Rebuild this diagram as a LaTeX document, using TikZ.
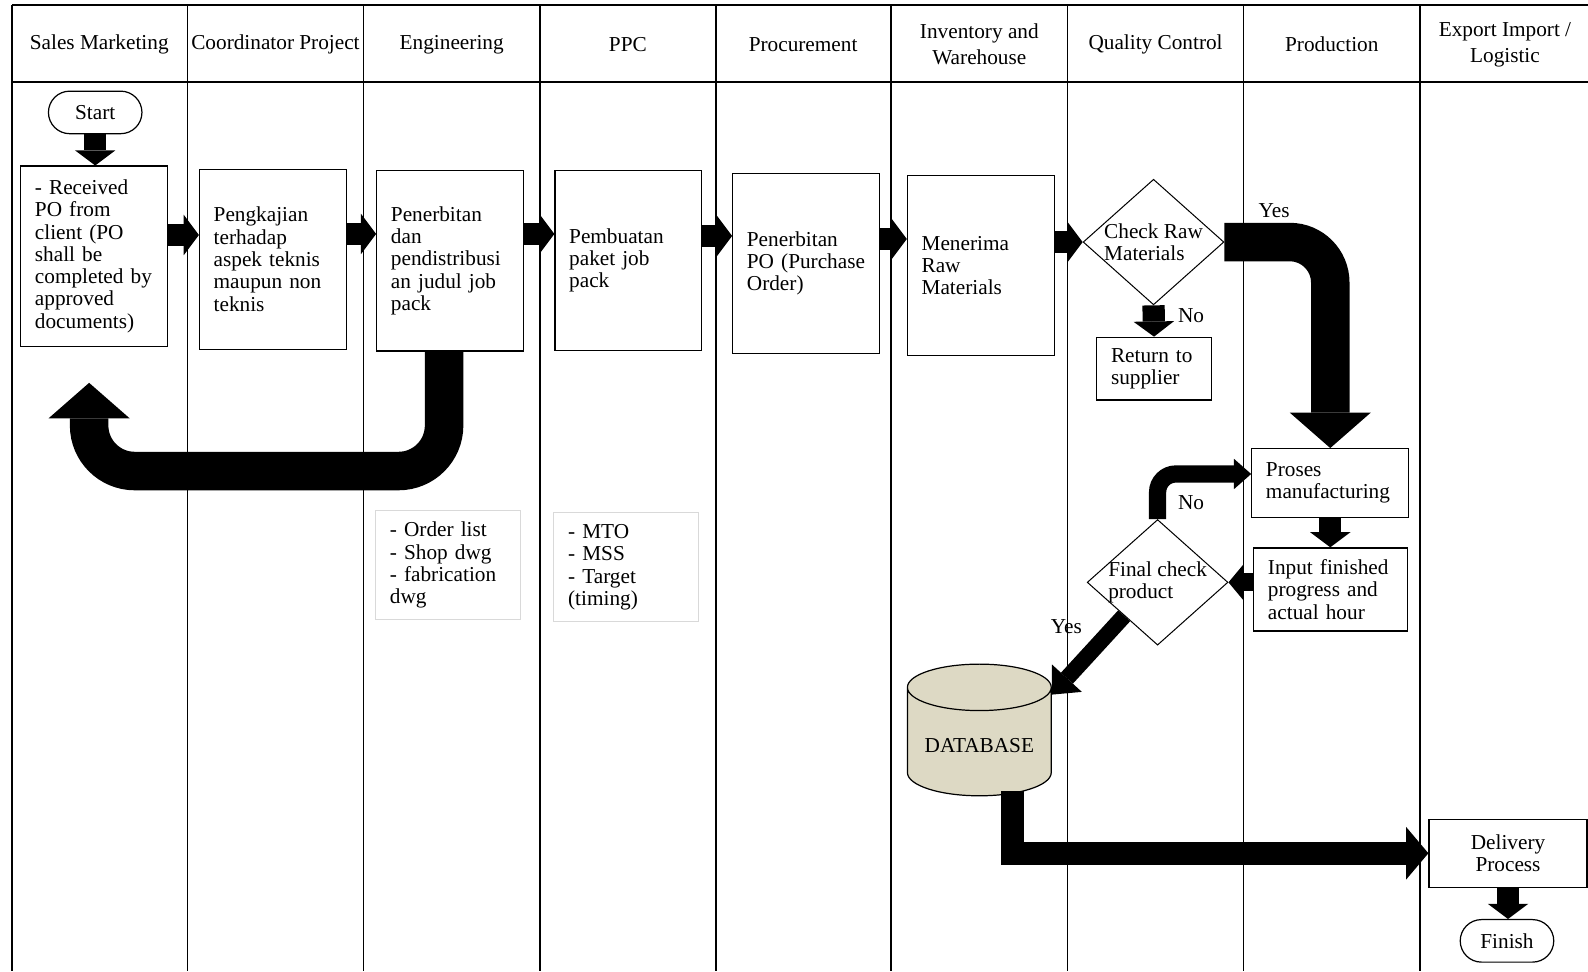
\documentclass[tikz,border=0pt]{standalone}
\usepackage{fontspec}
\setmainfont{Liberation Serif}
\usetikzlibrary{positioning,arrows.meta,shapes.geometric,shapes.misc}

\newcommand{\boxfont}{\fontsize{21}{22}\selectfont}
\newcommand{\headfont}{\fontsize{21}{26}\selectfont}
\definecolor{dbtan}{RGB}{221,217,196}
\definecolor{notegray}{RGB}{217,217,217}

\begin{document}
\begin{tikzpicture}[x=1pt, y=-1pt,
	lane/.style={line width=1.6pt},
	head/.style={font=\headfont, align=center},
	procbox/.style={rectangle, draw, line width=1.2pt, fill=white, minimum width=145pt, minimum height=178pt, text width=117pt, inner xsep=14pt, align=left, font=\boxfont},
	smallbox/.style={rectangle, draw, line width=1.2pt, fill=white, inner xsep=14pt, align=left, font=\boxfont},
	notebox/.style={rectangle, draw=notegray, line width=1pt, minimum width=143pt, minimum height=107pt, text width=115pt, inner xsep=14pt, align=left, font=\boxfont},
	term/.style={rounded rectangle, draw, line width=1.2pt, fill=white, minimum width=99pt, minimum height=42pt, font=\boxfont},
	decision/.style={diamond, draw, line width=1pt, fill=white, minimum width=139pt, minimum height=124pt, inner sep=-2pt, aspect=1.12, align=left, font=\boxfont},
	database/.style={cylinder, shape border rotate=90, draw, line width=1.2pt, fill=dbtan, aspect=0.4, minimum width=142pt, minimum height=130pt, font=\boxfont},
	lbl/.style={font=\boxfont},
	blockarrow/.style n args={3}{line width=#1, -{Triangle[width=#2, length=#3, line width=0pt]}},
	flow/.style={blockarrow={22pt}{40pt}{15pt}},
	thinflow/.style={blockarrow={17pt}{30pt}{17pt}},
	midflow/.style={blockarrow={23pt}{52pt}{22pt}},
	bigflow/.style={blockarrow={38pt}{80pt}{35pt}},
	]
	\useasboundingbox (0,0) rectangle (1568,959);

	%Lanes
	\foreach \lx in {12,185,359,533,707,880,1054,1228,1402}
		\draw[lane] (\lx,5) -- (\lx,959);
	\draw[lane] (12,5) -- (1568,5);
	\draw[line width=2.4pt] (12,81) -- (1568,81);

	%Headers
	\node[head] (hsales)   at (98,44)   {Sales Marketing};
	\node[head] (hcoord)   at (272,44)  {Coordinator Project};
	\node[head] (heng)     at (446,44)  {Engineering};
	\node[head] (hppc)     at (620,44)  {PPC};
	\node[head] (hproc)    at (793,44)  {Procurement};
	\node[head] (hinv)     at (967,44)  {Inventory and\\Warehouse};
	\node[head] (hqc)      at (1141,44) {Quality Control};
	\node[head] (hprod)    at (1315,44) {Production};
	\node[head] (hexp)     at (1486,44) {Export Import /\\Logistic};

	%Nodes
	\node[term]     (start)  at (94,111)    {Start};
	\node[procbox]  (po)     at (93,253)    {- Received\\PO from\\client (PO\\shall be\\completed by\\approved\\documents)};
	\node[procbox]  (kaji)   at (269.5,256) {Pengkajian\\terhadap\\aspek teknis\\maupun non\\teknis};
	\node[procbox]  (terbit) at (444.5,257.5) {Penerbitan\\dan\\pendistribusi\\an judul job\\pack};
	\node[procbox]  (paket)  at (620.5,257) {Pembuatan\\paket job\\pack};
	\node[procbox]  (purch)  at (796,260)   {Penerbitan\\PO (Purchase\\Order)};
	\node[procbox]  (terima) at (968.5,262) {Menerima\\Raw\\Materials};
	\node[decision] (check)  at (1139,239)  {Check Raw\\Materials};
	\node[smallbox, minimum width=113pt, minimum height=62pt, text width=85pt] (ret) at (1139.5,364) {Return to\\supplier};
	\node[smallbox, minimum width=155pt, minimum height=68pt, text width=127pt] (proses) at (1313.5,477) {Proses\\manufacturing};
	\node[smallbox, minimum width=152pt, minimum height=82pt, text width=124pt] (input) at (1314,582) {Input finished\\progress and\\actual hour};
	\node[decision] (final)  at (1143,575)  {Final check\\product};
	\node[database] (db)     at (967,736)   {DATABASE};
	\node[smallbox, minimum width=156pt, minimum height=67pt, align=center] (deliv) at (1489,842.5) {Delivery\\Process};
	\node[term]     (finish) at (1488,929)  {Finish};
	\node[notebox]  (docs)   at (442.5,558) {- Order list\\- Shop dwg\\- fabrication\\dwg};
	\node[notebox]  (plan)   at (618.5,560) {- MTO\\- MSS\\- Target\\(timing)};
	\coordinate (back) at (88,378);

	%Labels
	\node[lbl] (yes1) at (1258,208) {Yes};
	\node[lbl] (no1)  at (1176,312) {No};
	\node[lbl] (no2)  at (1176,496) {No};
	\node[lbl] (yes2) at (1053,619) {Yes};

	%Lines
	\draw[flow] (start.south) -- (start.south |- po.north);
	\draw[flow] ([yshift=21pt]po.east) -- ([yshift=21pt]po.east -| kaji.west);
	\draw[flow] ([yshift=25pt]kaji.east) -- ([yshift=25pt]kaji.east -| terbit.west);
	\draw[flow] ([yshift=26.5pt]terbit.east) -- ([yshift=26.5pt]terbit.east -| paket.west);
	\draw[flow] ([yshift=24pt]paket.east) -- ([yshift=24pt]paket.east -| purch.west);
	\draw[flow] ([yshift=24pt]purch.east) -- ([yshift=24pt]purch.east -| terima.west);
	\draw[flow] (terima.east |- check.west) -- (check.west);
	\draw[flow] (check.south) -- (ret.north);
	\draw[bigflow, rounded corners=45pt] ([xshift=-6pt]terbit.south) -- ++(0,118) -| (back);
	\draw[bigflow, rounded corners=40pt] (check.east) -| (proses.north);
	\draw[flow] (proses.south) -- (proses.south |- input.north);
	\draw[blockarrow={18pt}{36pt}{15pt}] (input.west |- final.east) -- (final.east);
	\draw[thinflow, rounded corners=18pt] (final.north) |- ([yshift=9pt]proses.west);
	\draw[blockarrow={16pt}{40pt}{22pt}] (final.-135) -- (db.35);
	\draw[midflow] ([xshift=33pt,yshift=5pt]db.south) |- (deliv.west);
	\draw[flow] (deliv.south) -- (deliv.south |- finish.north);
\end{tikzpicture}
\end{document}
